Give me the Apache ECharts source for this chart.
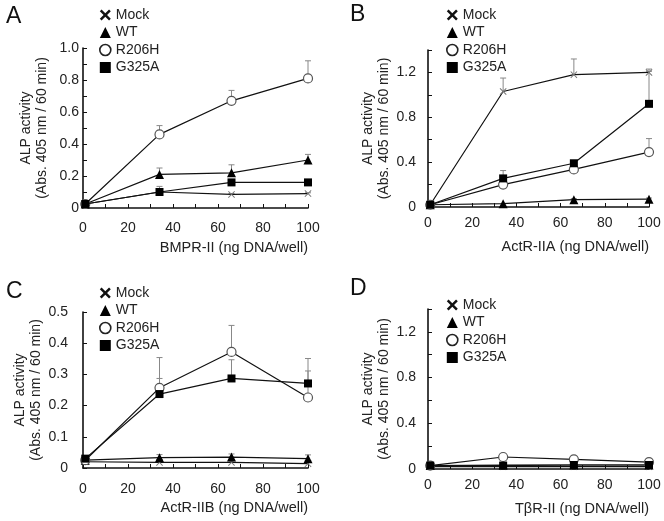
<!DOCTYPE html>
<html>
<head>
<meta charset="utf-8">
<script src="https://cdn.jsdelivr.net/npm/echarts@6/dist/echarts.min.js"></script>
<style>html,body{margin:0;padding:0;background:#fff}#c{width:664px;height:521px}</style>
</head>
<body>
<div id="c"></div>
<script>
// ---- Data ----
const doses = [1, 34, 66, 100];
const seriesNames = ['Mock', 'WT', 'R206H', 'G325A'];
const panelLetters = ['A', 'B', 'C', 'D'];
const xAxisNames = ['BMPR-II (ng DNA/well)', 'ActR-IIA (ng DNA/well)', 'ActR-IIB (ng DNA/well)', 'TβR-II (ng DNA/well)'];
const yAxisName = 'ALP activity\n(Abs. 405 nm / 60 min)';

// Panel A (BMPR-II)
const aMock  = [0.025, 0.10, 0.085, 0.09];
const aWT    = [0.025, 0.21, 0.22, 0.30];
const aR206H = [0.025, 0.46, 0.67, 0.81];
const aG325A = [0.025, 0.10, 0.16, 0.16];
const aMockErr  = [0, 0, 0.005, 0.005];
const aWTErr    = [0, 0.04, 0.05, 0.035];
const aR206HErr = [0, 0.055, 0.065, 0.11];
const aG325AErr = [0, 0.035, 0.01, 0.01];

// Panel B (ActR-IIA)
const bMock  = [0.02, 1.03, 1.18, 1.20];
const bWT    = [0.02, 0.03, 0.065, 0.07];
const bR206H = [0.02, 0.20, 0.335, 0.49];
const bG325A = [0.02, 0.255, 0.39, 0.92];
const bMockErr  = [0, 0.12, 0.14, 0.03];
const bWTErr    = [0, 0, 0.01, 0.01];
const bR206HErr = [0, 0.02, 0.02, 0.12];
const bG325AErr = [0, 0.07, 0.01, 0.29];

// Panel C (ActR-IIB)
const cMock  = [0.02, 0.018, 0.018, 0.014];
const cWT    = [0.025, 0.033, 0.035, 0.03];
const cR206H = [0.025, 0.257, 0.372, 0.226];
const cG325A = [0.03, 0.237, 0.287, 0.271];
const cMockErr  = [0, 0.005, 0.005, 0.005];
const cWTErr    = [0, 0.01, 0.01, 0.012];
const cR206HErr = [0, 0.097, 0.085, 0.125];
const cG325AErr = [0, 0.05, 0.06, 0.04];

// Panel D (TbR-II)
const dMock  = [0.02, 0.02, 0.02, 0.02];
const dWT    = [0.03, 0.035, 0.035, 0.035];
const dR206H = [0.03, 0.105, 0.085, 0.06];
const dG325A = [0.03, 0.03, 0.035, 0.035];
const dMockErr  = [0, 0, 0, 0];
const dWTErr    = [0, 0, 0, 0];
const dR206HErr = [0, 0.01, 0.01, 0.005];
const dG325AErr = [0, 0, 0, 0];

// y-axis ranges and highest labelled tick
const yMax = [1.0, 1.4, 0.5, 1.4];
const yInterval = [0.2, 0.4, 0.1, 0.4];
const yLabelMax = [1.0, 1.2, 0.5, 1.2];

// ---- Build ----
const FONT = 'Liberation Sans, Arial, Helvetica, sans-serif';
const panels = [
  {vals:[aMock,aWT,aR206H,aG325A], errs:[aMockErr,aWTErr,aR206HErr,aG325AErr]},
  {vals:[bMock,bWT,bR206H,bG325A], errs:[bMockErr,bWTErr,bR206HErr,bG325AErr]},
  {vals:[cMock,cWT,cR206H,cG325A], errs:[cMockErr,cWTErr,cR206HErr,cG325AErr]},
  {vals:[dMock,dWT,dR206H,dG325A], errs:[dMockErr,dWTErr,dR206HErr,dG325AErr]}
];
const layout = [
  {grid:{left:83, right:356, top:48, bottom:313}, yMargin:4, xMargin:13, legend:{left:94, top:3}, title:{left:1, top:0}},
  {grid:{left:428, right:15, top:50, bottom:314}, yMargin:12, xMargin:9, legend:{left:441, top:3}, title:{left:345, top:-2}},
  {grid:{left:83, right:356, top:312, bottom:53}, yMargin:15, xMargin:14, legend:{left:94, top:281}, title:{left:1, top:275}},
  {grid:{left:428, right:15, top:309, bottom:52}, yMargin:12, xMargin:9, legend:{left:441, top:293}, title:{left:345, top:272}}
];
const crossPath = 'path://M1,0L5,4L9,0L10,1L6,5L10,9L9,10L5,6L1,10L0,9L4,5L0,1Z';
const boldCross = 'path://M1.6,0L5,3.4L8.4,0L10,1.6L6.6,5L10,8.4L8.4,10L5,6.6L1.6,10L0,8.4L3.4,5L0,1.6Z';
const symbols = [crossPath, 'triangle', 'circle', 'rect'];
const symSizes = [7, 9, 9, 8];
const markerStyle = [
  {color:'#777'},
  {color:'#000'},
  {color:'#fff', borderColor:'#555', borderWidth:1.2},
  {color:'#000'}
];
const legendStyle = [
  {color:'#111'},
  {color:'#000'},
  {color:'#fff', borderColor:'#222', borderWidth:1.6},
  {color:'#000'}
];
const legendIcons = [boldCross, 'triangle', 'circle', 'rect'];
const legendSizes = [9, 11, 11, 10];

const grids = [], xAxes = [], yAxes = [], series = [], legends = [], titles = [];
panels.forEach((p, i) => {
  const L = layout[i];
  grids.push(L.grid);
  titles.push({text: panelLetters[i], left: L.title.left, top: L.title.top,
    textStyle:{fontSize:23, fontWeight:'normal', color:'#111', fontFamily:FONT}});
  xAxes.push({
    type:'value', gridIndex:i, min:0, max:100, interval:20,
    name: xAxisNames[i], nameLocation:'end', nameGap:0,
    nameTextStyle:{align:'right', verticalAlign:'top', padding:[32,0,0,0], fontSize:14.5, color:'#222', fontFamily:FONT},
    axisLine:{show:true, onZero:false, lineStyle:{color:'#111', width:1.6}},
    axisTick:{show:true, inside:true, length:4, lineStyle:{color:'#111', width:1}},
    minorTick:{show:true, splitNumber:2, length:4, lineStyle:{color:'#111', width:1}},
    axisLabel:{fontSize:14, color:'#222', margin:L.xMargin, fontFamily:FONT},
    splitLine:{show:false}
  });
  yAxes.push({
    type:'value', gridIndex:i, min:0, max:yMax[i], interval:yInterval[i],
    name: yAxisName, nameLocation:'middle', nameGap:33,
    nameTextStyle:{fontSize:14, color:'#222', lineHeight:16, fontFamily:FONT},
    axisLine:{show:true, lineStyle:{color:'#111', width:1.6}},
    axisTick:{show:true, inside:true, length:4, lineStyle:{color:'#111', width:1}},
    minorTick:{show: i !== 2, splitNumber:2, length:4, lineStyle:{color:'#111', width:1}},
    axisLabel:{fontSize:14, color:'#222', margin:L.yMargin, fontFamily:FONT,
      formatter: v => (v > yLabelMax[i] + 1e-9 ? '' : (v === 0 ? '0' : v.toFixed(1)))},
    splitLine:{show:false}
  });
  legends.push({
    orient:'vertical', left:L.legend.left, top:L.legend.top,
    itemWidth:11, itemHeight:11, itemGap:3.5,
    textStyle:{fontSize:14, color:'#222', fontFamily:FONT},
    selectedMode:false,
    data: seriesNames.map((n, k) => ({name:n, icon:legendIcons[k], itemStyle:legendStyle[k]}))
  });
  // error bars
  p.vals.forEach((vals, k) => {
    series.push({
      type:'custom', xAxisIndex:i, yAxisIndex:i, z:1, silent:true,
      data: doses.map((d, j) => [d, vals[j], p.errs[k][j]]),
      renderItem: (params, api) => {
        const x = api.value(0), y = api.value(1), e = api.value(2);
        if (!e) return null;
        const p0 = api.coord([x, y]);
        const p1 = api.coord([x, y + e]);
        return {type:'group', children:[
          {type:'line', shape:{x1:p0[0], y1:p0[1], x2:p1[0], y2:p1[1]}, style:{stroke:'#888', lineWidth:1}},
          {type:'line', shape:{x1:p1[0]-3, y1:p1[1], x2:p1[0]+3, y2:p1[1]}, style:{stroke:'#888', lineWidth:1}}
        ]};
      }
    });
  });
  // lines
  p.vals.forEach((vals, k) => {
    series.push({
      name: seriesNames[k], type:'line', xAxisIndex:i, yAxisIndex:i, z:3 + k,
      data: doses.map((d, j) => [d, vals[j]]),
      symbol: symbols[k], symbolSize: symSizes[k], showSymbol:true,
      lineStyle:{color:'#111', width:1.2},
      itemStyle: markerStyle[k],
      emphasis:{disabled:true},
      animation:false
    });
  });
});

const chart = echarts.init(document.getElementById('c'), null, {renderer:'canvas'});
chart.setOption({
  animation:false,
  backgroundColor:'#fff',
  textStyle:{fontFamily:FONT},
  title: titles,
  grid: grids,
  xAxis: xAxes,
  yAxis: yAxes,
  legend: legends,
  series: series
});
</script>
</body>
</html>
